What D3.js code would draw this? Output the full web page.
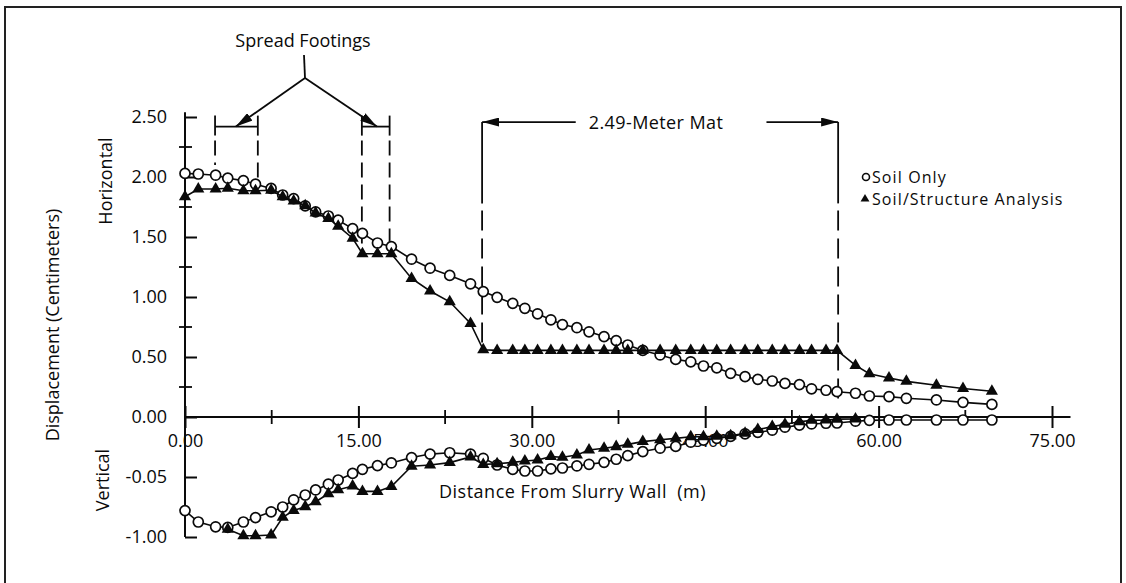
<!DOCTYPE html>
<html>
<head>
<meta charset="utf-8">
<script src="https://cdn.jsdelivr.net/npm/d3@7"></script>
<style>
  body { margin: 0; background: #fff; }
  svg text { font-family: "Open Sans", sans-serif; fill: #0a0a0a; }
</style>
</head>
<body>
<svg id="chart" width="1126" height="583"></svg>
<script>
// stations along the section (m from slurry wall)
var distance = [0, 1.15, 2.65, 3.7, 5.05, 6.1, 7.45, 8.45, 9.4, 10.4,
    11.3, 12.4, 13.25, 14.5, 15.35, 16.65, 17.85, 19.6, 21.2, 22.9,
    24.7, 25.8, 27.0, 28.35, 29.4, 30.5, 31.65, 32.65, 33.9, 34.95,
    36.25, 37.3, 38.3, 39.6, 41.1, 42.45, 43.75, 44.85, 46.0, 47.2,
    48.45, 49.55, 50.8, 51.9, 53.15, 54.2, 55.45, 56.4, 58.0, 59.2,
    60.9, 62.4, 65.0, 67.3, 69.8];

// horizontal displacement
var soilOnlyH = [2.03, 2.025, 2.015, 1.99, 1.97, 1.94, 1.905, 1.85, 1.82, 1.76,
    1.71, 1.675, 1.64, 1.57, 1.53, 1.45, 1.42, 1.315, 1.24, 1.18,
    1.11, 1.045, 0.997, 0.947, 0.906, 0.86, 0.81, 0.77, 0.744, 0.71,
    0.67, 0.636, 0.60, 0.555, 0.517, 0.48, 0.46, 0.425, 0.41, 0.364,
    0.336, 0.314, 0.30, 0.28, 0.27, 0.235, 0.223, 0.211, 0.198, 0.175,
    0.17, 0.156, 0.142, 0.122, 0.105];
var soilStructH = [1.835, 1.90, 1.90, 1.906, 1.886, 1.886, 1.89, 1.835, 1.80, 1.76,
    1.70, 1.655, 1.59, 1.49, 1.36, 1.36, 1.36, 1.155, 1.05, 0.96,
    0.78, 0.56, 0.555, 0.555, 0.555, 0.555, 0.555, 0.555, 0.555, 0.555,
    0.555, 0.555, 0.555, 0.555, 0.555, 0.555, 0.555, 0.555, 0.555, 0.555,
    0.555, 0.555, 0.555, 0.555, 0.555, 0.555, 0.555, 0.555, 0.43, 0.36,
    0.325, 0.297, 0.265, 0.237, 0.215];

// vertical displacement (plotted on the same axis, below zero)
var soilOnlyV = [-0.78, -0.875, -0.915, -0.92, -0.875, -0.838, -0.79, -0.75, -0.69, -0.65,
    -0.608, -0.56, -0.525, -0.47, -0.436, -0.405, -0.383, -0.338, -0.309, -0.298,
    -0.309, -0.344, -0.40, -0.437, -0.45, -0.45, -0.432, -0.425, -0.408, -0.394,
    -0.378, -0.352, -0.322, -0.288, -0.26, -0.245, -0.21, -0.192, -0.178, -0.162,
    -0.14, -0.128, -0.11, -0.085, -0.068, -0.058, -0.052, -0.05, -0.035, -0.028,
    -0.025, -0.025, -0.025, -0.025, -0.025];
var soilStructV = [null, null, null, -0.936, -0.99, -0.99, -0.983, -0.836, -0.78, -0.747,
    -0.706, -0.64, -0.606, -0.575, -0.62, -0.62, -0.58, -0.41, -0.40, -0.38,
    -0.333, -0.395, -0.39, -0.378, -0.367, -0.358, -0.33, -0.336, -0.316, -0.275,
    -0.261, -0.247, -0.228, -0.205, -0.19, -0.178, -0.164, -0.164, -0.16, -0.156,
    -0.136, -0.105, -0.08, -0.06, -0.04, -0.028, -0.025, -0.018, -0.017, null,
    null, null, null, null, null];

// axes
var xMajor = [0, 15, 30, 45, 60, 75];
var xMinor = [7.5, 22.5, 37.5, 52.5, 67.5];
var yMajor = [2.5, 2.0, 1.5, 1.0, 0.5, 0, -0.5, -1.0];
var yMajorLabels = ["2.50", "2.00", "1.50", "1.00", "0.50", "0.00", "-0.05", "-1.00"];
var yMinor = [2.25, 1.75, 1.25, 0.75, 0.25];

// annotations (m / cm)
var footings = [[2.6, 6.3], [15.3, 17.7]];
var footingDashEnd = [[2.1, 1.93], [1.37, 1.41]];
var mat = [25.7, 56.5];
var matDashEnd = [0.56, 0.115];

var svg = d3.select("#chart");
var ink = "#0a0a0a";
var fontSize = "18px";

var x = d3.scaleLinear().domain([0, 75]).range([185, 1052]);
var y = d3.scaleLinear().domain([0, 2.5]).range([417, 117]);

// frame
svg.append("rect")
    .attr("x", 5).attr("y", 7).attr("width", 1116).attr("height", 620)
    .attr("fill", "none").attr("stroke", "#222").attr("stroke-width", 2);

var defs = svg.append("defs");
defs.append("marker")
    .attr("id", "arrow")
    .attr("viewBox", "0 0 17 9")
    .attr("refX", 17).attr("refY", 4.5)
    .attr("markerWidth", 17).attr("markerHeight", 9)
    .attr("markerUnits", "userSpaceOnUse")
    .attr("orient", "auto")
    .append("path").attr("d", "M0,0L17,4.5L0,9Z").attr("fill", ink);

// ---- x axis
var xAxis = svg.append("g").attr("transform", "translate(0," + y(0) + ")");
xAxis.call(d3.axisBottom(x).tickValues(xMajor).tickFormat(d3.format(".2f"))
    .tickSizeInner(11).tickSizeOuter(0));
xAxis.select(".domain").remove();
xAxis.selectAll(".tick line").attr("y1", -11).attr("stroke", ink).attr("stroke-width", 2);
xAxis.selectAll(".tick text").attr("y", 30).attr("dy", 0)
    .style("font-size", fontSize).style("font-family", "'Open Sans', sans-serif").attr("fill", ink);
xAxis.append("line")
    .attr("x1", x(0)).attr("x2", x(76.6))
    .attr("stroke", ink).attr("stroke-width", 2);
xAxis.selectAll("line.minor").data(xMinor).enter().append("line")
    .attr("class", "minor")
    .attr("x1", function(d) { return x(d); }).attr("x2", function(d) { return x(d); })
    .attr("y1", -7).attr("y2", 7)
    .attr("stroke", ink).attr("stroke-width", 1.8);

// ---- y axis
var yAxis = svg.append("g").attr("transform", "translate(" + x(0) + ",0)");
yAxis.call(d3.axisLeft(y).tickValues(yMajor)
    .tickFormat(function(d, i) { return yMajorLabels[i]; })
    .tickSizeInner(12).tickSizeOuter(0).tickPadding(6));
yAxis.select(".domain").remove();
yAxis.selectAll(".tick line").attr("x2", 12).attr("stroke", ink).attr("stroke-width", 2);
yAxis.selectAll(".tick text")
    .style("font-size", fontSize).style("font-family", "'Open Sans', sans-serif").attr("fill", ink);
yAxis.append("line")
    .attr("y1", y(2.54)).attr("y2", y(-1.0))
    .attr("stroke", ink).attr("stroke-width", 2);
yAxis.selectAll("line.minor").data(yMinor).enter().append("line")
    .attr("class", "minor")
    .attr("y1", function(d) { return y(d); }).attr("y2", function(d) { return y(d); })
    .attr("x1", -6).attr("x2", 7)
    .attr("stroke", ink).attr("stroke-width", 1.8);

// ---- axis titles
svg.append("text")
    .attr("transform", "translate(52,325) rotate(-90)")
    .attr("text-anchor", "middle").attr("dominant-baseline", "central")
    .style("font-size", fontSize).text("Displacement (Centimeters)");
svg.append("text")
    .attr("transform", "translate(105,181) rotate(-90)")
    .attr("text-anchor", "middle").attr("dominant-baseline", "central")
    .style("font-size", fontSize).text("Horizontal");
svg.append("text")
    .attr("transform", "translate(102,480) rotate(-90)")
    .attr("text-anchor", "middle").attr("dominant-baseline", "central")
    .style("font-size", fontSize).text("Vertical");
svg.append("text")
    .attr("x", 439).attr("y", 498)
    .style("font-size", fontSize).style("white-space", "pre").style("letter-spacing", "0.5px")
    .text("Distance From Slurry Wall  (m)");

// ---- spread footing annotation
var ann = svg.append("g").attr("stroke", ink).attr("fill", "none").attr("stroke-width", 1.8);
var bracketY = y(2.42);
svg.append("text")
    .attr("x", 303).attr("y", 47).attr("text-anchor", "middle")
    .style("font-size", fontSize).text("Spread Footings");
ann.append("polyline").attr("points", "304,55 305,78");
ann.append("line")
    .attr("x1", 305).attr("y1", 78).attr("x2", x(4.4)).attr("y2", bracketY)
    .attr("marker-end", "url(#arrow)");
ann.append("line")
    .attr("x1", 305).attr("y1", 78).attr("x2", x(16.6)).attr("y2", bracketY)
    .attr("marker-end", "url(#arrow)");

footings.forEach(function(f, i) {
    ann.append("line")
        .attr("x1", x(f[0])).attr("x2", x(f[1]))
        .attr("y1", bracketY).attr("y2", bracketY);
    f.forEach(function(d, j) {
        ann.append("line")
            .attr("x1", x(d)).attr("x2", x(d))
            .attr("y1", bracketY - 11).attr("y2", bracketY + 9);
        ann.append("line")
            .attr("x1", x(d)).attr("x2", x(d))
            .attr("y1", bracketY + 14).attr("y2", y(footingDashEnd[i][j]))
            .attr("stroke-dasharray", "15,7");
    });
});

// ---- mat annotation
var matY = y(2.458);
svg.append("text")
    .attr("x", 656).attr("y", matY).attr("text-anchor", "middle")
    .attr("dominant-baseline", "central").style("letter-spacing", "0.4px")
    .style("font-size", fontSize).text("2.49-Meter Mat");
ann.append("line")
    .attr("x1", x(33.8)).attr("x2", x(mat[0])).attr("y1", matY).attr("y2", matY)
    .attr("marker-end", "url(#arrow)");
ann.append("line")
    .attr("x1", x(50.3)).attr("x2", x(mat[1])).attr("y1", matY).attr("y2", matY)
    .attr("marker-end", "url(#arrow)");
mat.forEach(function(d, j) {
    ann.append("line")
        .attr("x1", x(d)).attr("x2", x(d))
        .attr("y1", matY).attr("y2", y(1.78));
    ann.append("line")
        .attr("x1", x(d)).attr("x2", x(d))
        .attr("y1", y(1.72)).attr("y2", y(matDashEnd[j]))
        .attr("stroke-dasharray", "20,8");
});

// ---- series
function series(values, shape) {
    var pts = distance.map(function(d, i) { return [d, values[i]]; });
    var line = d3.line()
        .defined(function(p) { return p[1] !== null; })
        .x(function(p) { return x(p[0]); })
        .y(function(p) { return y(p[1]); });
    svg.append("path").datum(pts)
        .attr("d", line).attr("fill", "none")
        .attr("stroke", ink).attr("stroke-width", 1.6);
    var valid = pts.filter(function(p) { return p[1] !== null; });
    if (shape === "circle") {
        svg.append("g").selectAll("circle").data(valid).enter().append("circle")
            .attr("cx", function(p) { return x(p[0]); })
            .attr("cy", function(p) { return y(p[1]); })
            .attr("r", 5)
            .attr("fill", "#fff").attr("stroke", ink).attr("stroke-width", 1.7);
    } else {
        svg.append("g").selectAll("path").data(valid).enter().append("path")
            .attr("d", d3.symbol(d3.symbolTriangle, 64))
            .attr("transform", function(p) { return "translate(" + x(p[0]) + "," + y(p[1]) + ")"; })
            .attr("fill", ink);
    }
}

series(soilOnlyH, "circle");
series(soilStructH, "triangle");
series(soilOnlyV, "circle");
series(soilStructV, "triangle");

// ---- legend
svg.append("circle").attr("cx", 866).attr("cy", 177).attr("r", 3.5)
    .attr("fill", "#fff").attr("stroke", ink).attr("stroke-width", 1.6);
svg.append("path").attr("d", d3.symbol(d3.symbolTriangle, 34))
    .attr("transform", "translate(865,199)").attr("fill", ink);
svg.append("text").attr("x", 872).attr("y", 183)
    .style("font-size", "16px").style("letter-spacing", "1.1px").text("Soil Only");
svg.append("text").attr("x", 872).attr("y", 205)
    .style("font-size", "16px").style("letter-spacing", "1.1px").text("Soil/Structure Analysis");
</script>
</body>
</html>
